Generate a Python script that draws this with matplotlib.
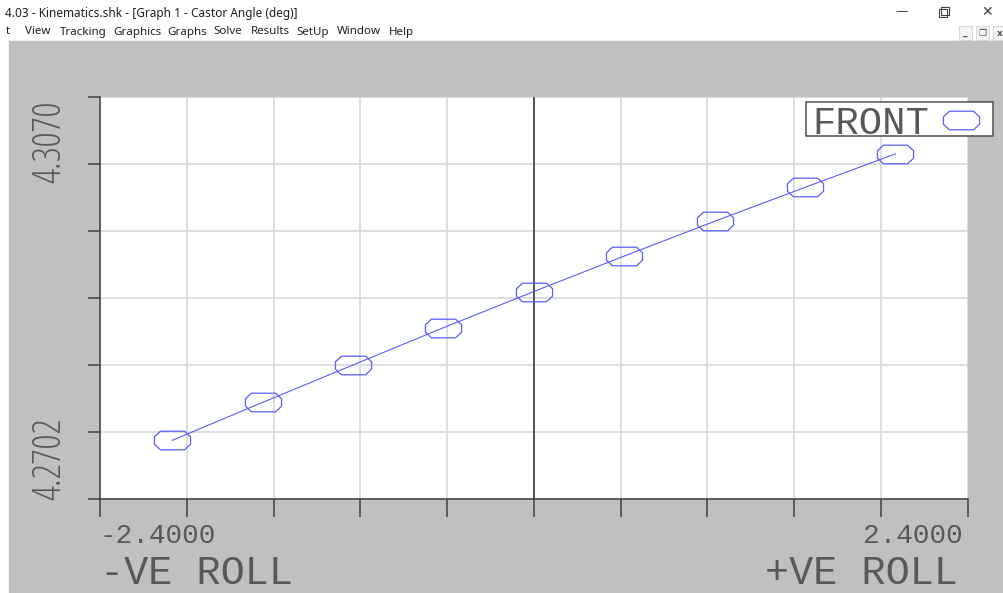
"""
Castor angle vs roll, drawn to look like the Kinematics graph window.
"""

import os

import numpy as np
import matplotlib
matplotlib.use("Agg")
import matplotlib.pyplot as plt
from matplotlib.path import Path
from matplotlib.patches import Rectangle
from matplotlib.lines import Line2D
from matplotlib import font_manager
from matplotlib.font_manager import FontProperties

# ----------------------------------------------------------
# DATA
# ----------------------------------------------------------
roll_deg = [-2.5, -1.875, -1.25, -0.625, 0.0, 0.625, 1.25, 1.875, 2.5]
castor_front = [4.26906, 4.27427, 4.27941, 4.28452, 4.28949,
                4.29436, 4.29913, 4.30379, 4.30839]
series_name = "FRONT"

x_range = [-3.0, 3.0]
y_range = [4.2610, 4.3162]
x_tick_labels = ["-2.4000", "2.4000"]
y_tick_labels = ["4.2702", "4.3070"]
axis_labels = ["-VE ROLL", "+VE ROLL"]

window_title = "4.03 - Kinematics.shk - [Graph 1 - Castor Angle (deg)]"
menu_items = ["t", "View", "Tracking", "Graphics", "Graphs", "Solve",
              "Results", "SetUp", "Window", "Help"]
menu_x = [6, 25, 60, 113, 167, 213, 251, 296, 337, 389]

# ----------------------------------------------------------
# STYLE
# ----------------------------------------------------------
W, H = 1004, 593
BLUE = "#5c5cff"
INK = "#585858"
GREY_BG = "#c0c0c0"


def font_file(*names):
    """Return the first installed font file whose basename matches."""
    files = {os.path.basename(f.fname).lower(): f.fname
             for f in font_manager.fontManager.ttflist}
    for n in names:
        if n.lower() in files:
            return n, files[n.lower()]
    return None, None


# thin, monospaced look of the program's stroke font
mono_name, mono_path = font_file("NotoSansMono-Light.ttf", "RobotoMono-Light.ttf",
                                 "LiberationMono-Regular.ttf")
# very condensed digits for the vertical labels (name -> point size)
narrow_sizes = {"OpenSans-CondLight.ttf": 27, "RobotoCondensed-Light.ttf": 23,
                "NotoSans-ExtraCondensedLight.ttf": 27,
                "LiberationSansNarrow-Regular.ttf": 26}
narrow_name, narrow_path = font_file(*narrow_sizes)


def mono(size):
    if mono_path:
        return FontProperties(fname=mono_path, size=size)
    return FontProperties(family="DejaVu Sans Mono", size=size * 0.95)


f_xtick = mono(20)
f_axis = mono(29)
f_leg = mono(28)
if narrow_path:
    f_ytick = FontProperties(fname=narrow_path, size=narrow_sizes[narrow_name])
else:
    f_ytick = FontProperties(family="DejaVu Sans", size=18)

UI = "Noto Sans"

# stretched octagon marker like the program's symbol
octagon = Path([(-11.7, 9), (11.7, 9), (17.5, 3.6), (17.5, -3.6),
                (11.7, -9), (-11.7, -9), (-17.5, -3.6), (-17.5, 3.6),
                (-11.7, 9)], closed=True)
MS = 26

fig = plt.figure(figsize=(W / 100, H / 100), dpi=100, facecolor="white")

# grey MDI client area
fig.patches.append(Rectangle((9 / W, 0), 1 - 9 / W, 1 - 41 / H,
                             transform=fig.transFigure, color=GREY_BG, zorder=-10))

# --- window chrome ---
fig.text(5 / W, 1 - 13 / H, window_title, family=UI, size=8.5,
         color="#202020", va="center", ha="left")
for label, x in zip(menu_items, menu_x):
    fig.text(x / W, 1 - 32 / H, label, family=UI, size=8.3,
             color="#202020", va="center", ha="left")
fig.text(902 / W, 1 - 12 / H, "\u2014", family="DejaVu Sans", size=9,
         color="#404040", va="center", ha="center")
fig.patches.append(Rectangle((939 / W, 1 - 17 / H), 8 / W, 8 / H,
                             transform=fig.transFigure, fill=False,
                             ec="#404040", lw=0.8))
fig.patches.append(Rectangle((941 / W, 1 - 15 / H), 8 / W, 8 / H,
                             transform=fig.transFigure, fill=False,
                             ec="#404040", lw=0.8))
fig.text(987 / W, 1 - 12 / H, "\u2715", family="DejaVu Sans", size=10,
         color="#404040", va="center", ha="center")
for x0, glyph in zip([959, 976, 993], ["_", "\u2750", "x"]):
    fig.patches.append(Rectangle((x0 / W, 1 - 40 / H), 13 / W, 14 / H,
                                 transform=fig.transFigure, fc="#f4f4f4",
                                 ec="#d8d8d8", lw=0.8))
    fig.text((x0 + 6.5) / W, 1 - 33 / H, glyph, family="DejaVu Sans",
             size=6.5, color="#505050", va="center", ha="center",
             weight="bold")

# --- plot area ---
ax = fig.add_axes([100 / W, 1 - 499 / H, 867.7 / W, 402 / H])
ax.set_facecolor("white")
ax.set_xlim(x_range)
ax.set_ylim(y_range)
ax.set_xticks(np.linspace(x_range[0], x_range[1], 11))
ax.set_yticks(np.linspace(y_range[0], y_range[1], 7))
ax.grid(color="#d8d8d8", lw=1.2)
ax.set_axisbelow(True)
ax.tick_params(axis="x", direction="out", length=13, width=1.1,
               color="#404040", labelbottom=False)
ax.tick_params(axis="y", direction="out", length=8.6, width=1.1,
               color="#404040", labelleft=False)
for side in ["top", "right"]:
    ax.spines[side].set_visible(False)
for side in ["left", "bottom"]:
    ax.spines[side].set_color("#404040")
    ax.spines[side].set_linewidth(1.1)

ax.axvline(0, color="#303030", lw=1.1, zorder=1.5)

ax.plot(roll_deg, castor_front, color=BLUE, lw=0.8, marker=octagon,
        ms=MS, mfc="none", mec=BLUE, mew=0.9, zorder=3)

# tick values sit at the ends of the axes, as in the original program
ax.text(0.0, -0.1095, x_tick_labels[0], transform=ax.transAxes,
        fontproperties=f_xtick, color=INK, ha="left", va="baseline")
ax.text(0.9946, -0.1095, x_tick_labels[1], transform=ax.transAxes,
        fontproperties=f_xtick, color=INK, ha="right", va="baseline")
ax.text(0.0, -0.2125, axis_labels[0], transform=ax.transAxes,
        fontproperties=f_axis, color=INK, ha="left", va="baseline")
ax.text(0.9888, -0.2125, axis_labels[1], transform=ax.transAxes,
        fontproperties=f_axis, color=INK, ha="right", va="baseline")
ax.text(-0.0575, 0.9908, y_tick_labels[1], transform=ax.transAxes,
        fontproperties=f_ytick, color=INK, rotation=90,
        ha="center", va="top")
ax.text(-0.0575, -0.0025, y_tick_labels[0], transform=ax.transAxes,
        fontproperties=f_ytick, color=INK, rotation=90,
        ha="center", va="bottom")

# legend hanging over the right edge of the plot; its box is drawn
# separately so it can be tighter than the font's line height
box = Rectangle((806 / W, 1 - 136 / H), 187 / W, 34 / H,
                transform=fig.transFigure, fc="white", ec="#505050",
                lw=1.1, zorder=4, clip_on=False)
ax.add_patch(box)
handle = Line2D([], [], ls="none", marker=octagon, ms=MS, mfc="none",
                mec=BLUE, mew=0.9)
leg = ax.legend([handle], [series_name], loc="center right",
                bbox_to_anchor=((991 - 100) / 867.7, (499 - 124) / 402),
                frameon=False, markerfirst=False,
                borderpad=0, handletextpad=0.05, handlelength=1.55,
                borderaxespad=0, labelcolor=INK, prop=f_leg)
leg.set_zorder(5)

fig.savefig("out.png", dpi=100, facecolor="white")
